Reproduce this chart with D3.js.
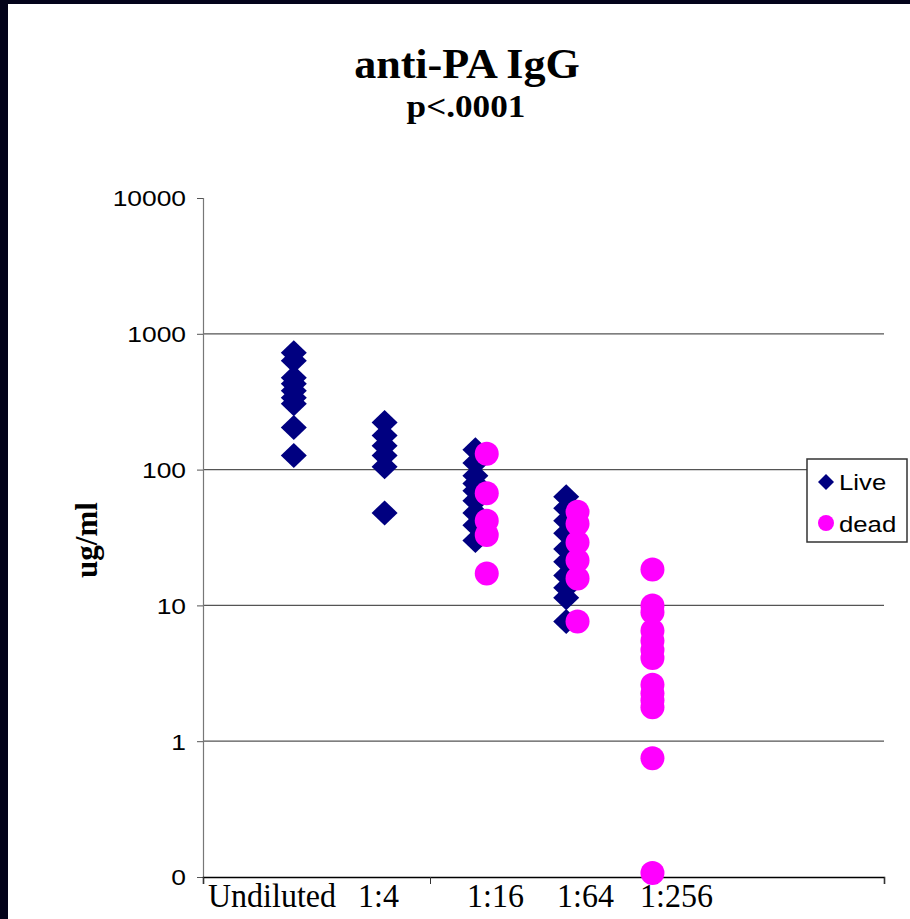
<!DOCTYPE html>
<html>
<head>
<meta charset="utf-8">
<script src="https://cdn.jsdelivr.net/npm/d3@7"></script>
<style>
  body { margin: 0; background: #fff; }
</style>
</head>
<body>
<svg width="910" height="919"></svg>
<script>
// Data
const categories = ['Undiluted', '1:4', '1:16', '1:64', '1:256'];
const liveX = [0.40, 0.80, 1.20, 1.60];
const liveValues = [
  [725, 632, 475, 429, 381, 338, 305, 204, 127],
  [222, 178, 150, 127, 105, 48],
  [140, 112, 90, 79, 70, 59, 48, 39, 30],
  [63, 52, 42, 34, 26, 21, 16.6, 13.5, 11.4, 7.6]
];
const deadX = [1.25, 1.65, 1.98];
const deadValues = [
  [131, 67, 42, 33, 17.2],
  [49, 40, 29, 21.4, 15.8, 7.6],
  [18.4, 10, 8.9, 6.5, 5.5, 4.7, 4.1, 2.6, 2.25, 2.0, 1.78, 0.75, 0.107]
];
const yTicks = [0.1, 1, 10, 100, 1000, 10000];
const yTickLabels = ['0', '1', '10', '100', '1000', '10000'];
const xTicks = [0, 1, 2, 3];

const svg = d3.select('svg');
const width = +svg.attr('width');
const height = +svg.attr('height');

// white page + dark frame on top and left
svg.append('rect').attr('width', width).attr('height', height).attr('fill', '#fff');
svg.append('rect').attr('width', width).attr('height', 4).attr('fill', '#03031a');
svg.append('rect').attr('width', 8).attr('height', height).attr('fill', '#03031a');

// plot area
const plotLeft = 203, plotRight = 884, plotTop = 198, plotBottom = 877;

const x = d3.scaleLinear().domain([0, 3]).range([plotLeft, plotRight]);
const y = d3.scaleLog().domain([0.1, 10000]).range([plotBottom, plotTop]);

// text with a horizontal stretch (the original looks widened)
const stretchText = (g, tx, ty, sx, str) => g.append('text')
    .attr('transform', `translate(${tx},${ty}) scale(${sx},1)`)
    .text(str);

// gridlines (not at top)
svg.append('g')
  .selectAll('line')
  .data(yTicks.slice(1, -1))
  .join('line')
    .attr('x1', plotLeft).attr('x2', plotRight)
    .attr('y1', d => y(d)).attr('y2', d => y(d))
    .attr('stroke', '#555')
    .attr('stroke-width', 1.3);

// y axis
const yAxis = svg.append('g')
    .attr('transform', `translate(${plotLeft},0)`)
    .call(d3.axisLeft(y).tickValues(yTicks).tickSize(6)
      .tickFormat((d, i) => yTickLabels[i]));
yAxis.select('.domain').attr('stroke', '#777').attr('stroke-width', 1.2);
yAxis.selectAll('.tick line').attr('stroke', '#555');
yAxis.selectAll('.tick text')
    .attr('font-family', 'Arial, "Liberation Sans", sans-serif')
    .attr('font-size', 22)
    .attr('fill', '#000')
    .attr('x', 0)
    .attr('transform', 'translate(-17,0) scale(1.2,1)')
    .attr('dy', '0.36em');

// x axis
const xAxis = svg.append('g')
    .attr('transform', `translate(0,${plotBottom})`)
    .call(d3.axisBottom(x).tickValues(xTicks).tickSize(7).tickFormat(''));
xAxis.select('.domain').attr('stroke', '#000').attr('stroke-width', 1.5);
xAxis.selectAll('.tick line').attr('stroke', '#333');

// category labels under the axis
const labelStart = [208, 358, 467, 557, 640];
const catG = svg.append('g')
    .attr('font-family', '"Times New Roman", "Liberation Serif", serif')
    .attr('font-size', 33);
categories.forEach((c, i) => stretchText(catG, labelStart[i], 907, 0.97, c));

// titles
const titleG = svg.append('g')
    .attr('font-family', '"Times New Roman", "Liberation Serif", serif')
    .attr('font-weight', 'bold')
    .attr('text-anchor', 'middle');
stretchText(titleG, 467, 78, 1.05, 'anti-PA IgG').attr('font-size', 42);
stretchText(titleG, 466, 117, 1.1, 'p<.0001').attr('font-size', 32);

// y axis title
svg.append('text')
    .attr('transform', `translate(97,540) rotate(-90)`)
    .attr('text-anchor', 'middle')
    .attr('font-family', '"Times New Roman", "Liberation Serif", serif')
    .attr('font-weight', 'bold')
    .attr('font-size', 31)
    .text('ug/ml');

// markers
const diamond = (hw, hh) => `M0,${-hh}L${hw},0L0,${hh}L${-hw},0Z`;

const liveG = svg.append('g');
liveValues.forEach((vals, i) => {
  liveG.selectAll(null)
    .data(vals)
    .join('path')
      .attr('d', diamond(13, 12.5))
      .attr('transform', d => `translate(${x(liveX[i])},${y(d)})`)
      .attr('fill', '#000080');
});

const deadG = svg.append('g');
deadValues.forEach((vals, i) => {
  deadG.selectAll(null)
    .data(vals)
    .join('circle')
      .attr('cx', x(deadX[i]))
      .attr('cy', d => y(d))
      .attr('r', 12)
      .attr('fill', '#ff00ff');
});

// legend
const legend = svg.append('g');
legend.append('rect')
    .attr('x', 807).attr('y', 459)
    .attr('width', 100).attr('height', 83)
    .attr('fill', '#fff')
    .attr('stroke', '#333')
    .attr('stroke-width', 1.5);
legend.append('path')
    .attr('d', diamond(8, 8))
    .attr('transform', 'translate(826,482)')
    .attr('fill', '#000080');
legend.append('circle')
    .attr('cx', 826).attr('cy', 523)
    .attr('r', 8)
    .attr('fill', '#ff00ff');
const legText = legend.append('g')
    .attr('font-family', 'Arial, "Liberation Sans", sans-serif')
    .attr('font-size', 22);
stretchText(legText, 839, 490, 1.17, 'Live');
stretchText(legText, 839, 532, 1.17, 'dead');
</script>
</body>
</html>
